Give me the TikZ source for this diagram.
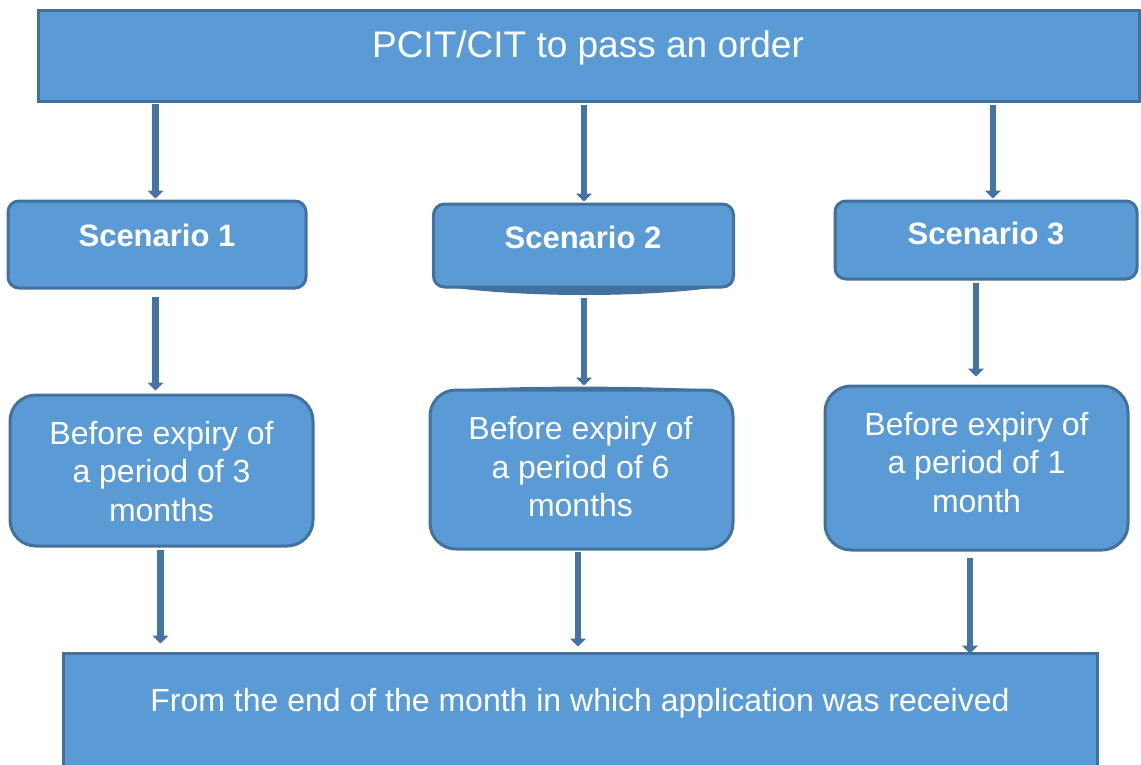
\documentclass[tikz,border=0pt]{standalone}
\usepackage{fontspec}
\setmainfont{Liberation Sans}
\usetikzlibrary{arrows.meta,calc}
\definecolor{boxfill}{HTML}{5B9BD5}
\definecolor{boxline}{HTML}{41719C}
\definecolor{arrowcol}{HTML}{4474A3}
\tikzset{
  sqbox/.style={draw=boxline, fill=boxfill, line width=3pt, inner sep=0pt},
  scenbox/.style={sqbox, rounded corners=11pt},
  periodbox/.style={sqbox, rounded corners=26pt},
  boxtext/.style={text=white, inner sep=0pt},
  toptext/.style={boxtext, font=\fontsize{37}{44}\selectfont},
  scentext/.style={boxtext, font=\bfseries\fontsize{31}{37}\selectfont},
  bodytext/.style={boxtext, align=center, font=\fontsize{32}{38.5}\selectfont},
  conn/.style={draw=arrowcol, line width=6.5pt,
    -{Triangle[width=16pt,length=8pt]}},
}
\begin{document}
\begin{tikzpicture}[x=1pt,y=-1pt]
\useasboundingbox (0,0) rectangle (1141,764);

% boxes
\node[sqbox, minimum width=1101pt, minimum height=91pt] (top) at (588.5,55.5) {};
\node[scenbox, minimum width=298pt, minimum height=87pt] (s1) at (157,244.5) {};
\node[scenbox, minimum width=300pt, minimum height=83pt] (s2) at (583.5,245.5) {};
\node[scenbox, minimum width=302pt, minimum height=78pt] (s3) at (986,240) {};
\node[periodbox, minimum width=303pt, minimum height=151pt] (a) at (161.5,470.5) {};
\node[periodbox, minimum width=303pt, minimum height=159pt] (b) at (581.5,469.5) {};
\node[periodbox, minimum width=303pt, minimum height=164pt] (c) at (976.5,468) {};
\node[sqbox, minimum width=1034pt, minimum height=140pt] (bot) at (580,723) {};

% wavy edges of the middle column
\fill[boxline] (441,286) .. controls (520,298) and (650,298) .. (725,286) -- cycle;
\fill[boxline] (450,390) .. controls (520,385.5) and (640,385.5) .. (715,390) -- cycle;

% labels
\node[toptext, anchor=base] (ttop) at (588,57) {PCIT/CIT to pass an order};
\node[scentext, anchor=base] (ts1) at (157,246) {Scenario 1};
\node[scentext, anchor=base] (ts2) at (583,248) {Scenario 2};
\node[scentext, anchor=base] (ts3) at (986,244) {Scenario 3};
\node[bodytext] (ta) at (161.5,471.5) {Before expiry of\\a period of 3\\months};
\node[bodytext] (tb) at (580.5,467) {Before expiry of\\a period of 6\\months};
\node[bodytext] (tc) at (976.5,462.5) {Before expiry of\\a period of 1\\month};
\node[boxtext, font=\fontsize{32}{38.5}\selectfont, anchor=base] (tbot) at (580,711)
  {From the end of the month in which application was received};

% connectors
\draw[conn] ($(top.south -| s1.north)+(-1.5,1.5)$) -- ($(s1.north)+(-1.5,-1)$);
\draw[conn] ($(top.south -| s2.north)+(0.5,2.5)$) -- ($(s2.north)+(0.5,-1)$);
\draw[conn] ($(top.south -| s3.north)+(7,2.5)$) -- ($(s3.north)+(7,-1)$);
\draw[conn] ($(s1.south)+(-1.5,7)$) -- ($(s1.south |- a.north)+(-1.5,-3)$);
\draw[conn] ($(s2.south)+(0.5,9)$) -- ($(s2.south |- b.north)+(0.5,-3)$);
\draw[conn] ($(s3.south)+(-10,2)$) -- ($(s3.south |- c.north)+(-10,-8)$);
\draw[conn] ($(a.south)+(-1,2)$) -- ($(a.south |- bot.north)+(-1,-8)$);
\draw[conn] ($(b.south)+(-3.5,1)$) -- ($(b.south |- bot.north)+(-3.5,-5)$);
\draw[conn] ($(c.south)+(-6.5,6)$) -- ($(c.south |- bot.north)+(-6.5,2)$);
\end{tikzpicture}
\end{document}
